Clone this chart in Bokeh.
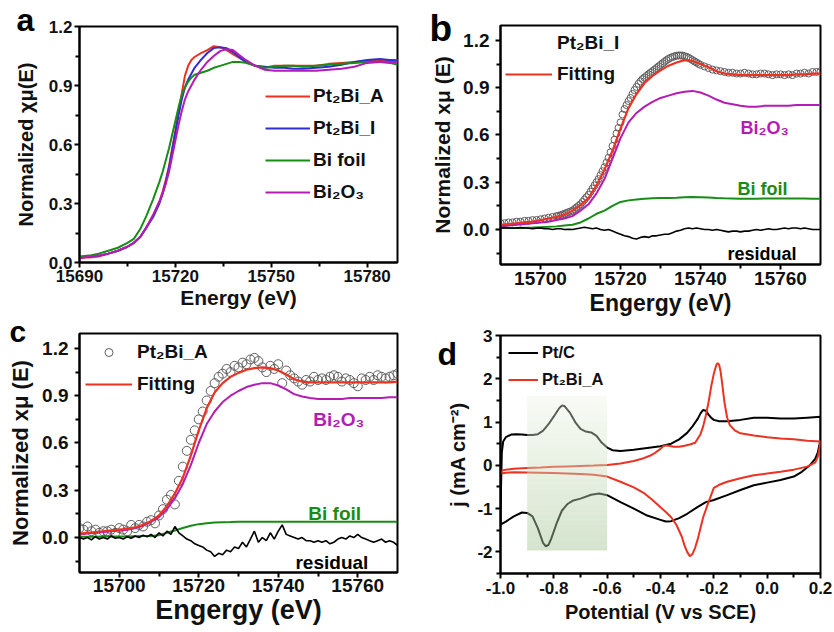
from bokeh.plotting import figure
from bokeh.layouts import column, row
from bokeh.models import (Range1d, FixedTicker, Legend, LegendItem, Label,
                          NumeralTickFormatter)
from bokeh.embed import file_html
from bokeh.resources import INLINE

FONT = "Liberation Sans"
RED = "#eb3223"
BLUE = "#2e2ed6"
GREEN = "#178c17"
MAGENTA = "#b51cb5"

# ---------------- data : panel a (XANES, Bi L3 edge) ----------------
energy_a = [15690, 15693, 15696, 15699, 15702, 15705, 15707, 15709, 15711, 15713,
            15715, 15716, 15717, 15718, 15719, 15720, 15721, 15722, 15723, 15724,
            15725, 15726, 15728, 15730, 15732, 15734, 15736, 15738, 15740, 15742,
            15745, 15748, 15751, 15754, 15757, 15760, 15764, 15768, 15772, 15776,
            15780, 15784, 15787, 15790]
pt2bi_a_a = [0.025, 0.025, 0.03, 0.045, 0.06, 0.08, 0.10, 0.13, 0.18, 0.24,
             0.31, 0.36, 0.42, 0.49, 0.58, 0.67, 0.77, 0.86, 0.95, 1.0,
             1.03, 1.045, 1.065, 1.08, 1.1, 1.095, 1.08, 1.06, 1.04, 1.02,
             1.0, 0.99, 1.0, 1.0, 1.0, 1.0, 1.0, 1.01, 1.015, 1.02,
             1.025, 1.03, 1.03, 1.03]
pt2bi_i_a = [0.025, 0.03, 0.035, 0.045, 0.06, 0.08, 0.10, 0.13, 0.18, 0.23,
             0.30, 0.35, 0.41, 0.48, 0.57, 0.66, 0.75, 0.83, 0.89, 0.93,
             0.96, 0.99, 1.03, 1.065, 1.09, 1.095, 1.09, 1.07, 1.045, 1.02,
             1.0, 0.995, 0.99, 0.99, 0.985, 0.985, 0.99, 0.995, 1.005, 1.02,
             1.03, 1.035, 1.03, 1.025]
bifoil_a = [0.03, 0.035, 0.045, 0.06, 0.075, 0.10, 0.12, 0.17, 0.24, 0.32,
            0.41, 0.46, 0.52, 0.58, 0.65, 0.72, 0.79, 0.85, 0.89, 0.92,
            0.94, 0.955, 0.965, 0.975, 0.99, 1.0, 1.01, 1.02, 1.02, 1.015,
            1.0, 0.99, 0.995, 1.0, 1.0, 0.995, 1.0, 1.005, 1.01, 1.015,
            1.02, 1.02, 1.015, 1.005]
bi2o3_a = [0.02, 0.03, 0.035, 0.045, 0.06, 0.08, 0.10, 0.13, 0.18, 0.24,
           0.31, 0.35, 0.40, 0.46, 0.54, 0.62, 0.70, 0.77, 0.83, 0.87,
           0.90, 0.93, 0.98, 1.02, 1.05, 1.075, 1.085, 1.08, 1.055, 1.03,
           1.0, 0.98, 0.975, 0.975, 0.975, 0.975, 0.975, 0.98, 0.985, 0.995,
           1.015, 1.02, 1.02, 1.02]

# ---------------- data : panel b (Pt2Bi_I LCF) ----------------
energy_b_pts = (list(range(15690, 15705)) + [15704.5 + 0.5 * i for i in range(72)]
                + list(range(15741, 15771)))
data_b = [0.04, 0.04, 0.045, 0.045, 0.05, 0.05, 0.055, 0.055, 0.06, 0.06,
          0.065, 0.07, 0.075, 0.08, 0.085,
          0.088, 0.09, 0.095, 0.10, 0.105, 0.11, 0.115, 0.12, 0.13, 0.14,
          0.15, 0.16, 0.175, 0.19, 0.205, 0.22, 0.24, 0.26, 0.28, 0.30,
          0.32, 0.345, 0.37, 0.395, 0.425, 0.455, 0.49, 0.53, 0.57, 0.61,
          0.645, 0.68, 0.73, 0.765, 0.79, 0.815, 0.835, 0.86, 0.885, 0.905,
          0.925, 0.94, 0.955, 0.965, 0.975, 0.985, 0.995, 1.005, 1.015, 1.025,
          1.035, 1.045, 1.055, 1.065, 1.075, 1.083, 1.09, 1.095, 1.1, 1.103,
          1.105, 1.105, 1.104, 1.1, 1.096, 1.09, 1.083, 1.075, 1.067, 1.06,
          1.052, 1.045,
          1.035, 1.025, 1.015, 1.01, 1.005, 1.0, 0.995, 0.995, 0.99, 0.99,
          0.995, 0.99, 0.985, 0.985, 0.99, 0.99, 0.985, 0.98, 0.985, 0.985,
          0.98, 0.985, 0.98, 0.99, 0.99, 0.995, 0.99, 1.0, 1.0, 1.005]
energy_line = list(range(15690, 15771, 2))    # 2 eV steps
energy_res = list(range(15690, 15771))        # 1 eV steps
fit_b = [0.03, 0.035, 0.04, 0.045, 0.05, 0.06, 0.07, 0.08, 0.095, 0.12,
         0.155, 0.20, 0.28, 0.38, 0.50, 0.64, 0.77, 0.86, 0.93, 0.975,
         1.01, 1.04, 1.06, 1.075, 1.07, 1.05, 1.03, 1.005, 0.99, 0.985,
         0.98, 0.98, 0.98, 0.98, 0.98, 0.98, 0.98, 0.985, 0.985, 0.99,
         0.99]
bi2o3_b = [0.02, 0.025, 0.03, 0.035, 0.04, 0.045, 0.05, 0.06, 0.07, 0.085,
           0.12, 0.16, 0.23, 0.32, 0.45, 0.58, 0.68, 0.74, 0.78, 0.81,
           0.835, 0.85, 0.865, 0.875, 0.88, 0.87, 0.85, 0.825, 0.805, 0.795,
           0.785, 0.78, 0.78, 0.785, 0.785, 0.785, 0.785, 0.79, 0.79, 0.79,
           0.79]
bifoil_b = [0.01, 0.01, 0.01, 0.012, 0.013, 0.015, 0.017, 0.02, 0.025, 0.03,
            0.045, 0.07, 0.10, 0.12, 0.15, 0.175, 0.185, 0.19, 0.195, 0.198,
            0.2, 0.2, 0.202, 0.205, 0.207, 0.205, 0.203, 0.2, 0.198, 0.197,
            0.196, 0.196, 0.196, 0.197, 0.197, 0.197, 0.197, 0.197, 0.197, 0.196,
            0.196]
resid_b = [0.01, 0.012, 0.01, 0.008, 0.01, 0.012, 0.01, 0.008, 0.005, 0.008,
           0.01, 0.005, 0.005, 0.0, 0.005, 0.005, 0.0, 0.002, 0.0, 0.005,
           0.01, 0.015, 0.01, 0.005, 0.01, 0.0, -0.005, 0.0, -0.01, -0.02,
           -0.03, -0.04, -0.045, -0.055, -0.06, -0.05, -0.045, -0.05, -0.04, -0.04,
           -0.035, -0.03, -0.03, -0.02, -0.01, -0.005, 0.005, 0.01, 0.005, 0.01,
           0.005, 0.0, 0.0, -0.005, 0.0, -0.005, -0.01, -0.015, -0.01, -0.01,
           -0.015, -0.01, -0.01, -0.005, 0.0, -0.005, 0.0, 0.005, 0.0, 0.0,
           0.005, 0.01, 0.005, 0.01, 0.01, 0.005, 0.01, 0.005, 0.0, 0.0,
           0.0]

# ---------------- data : panel c (Pt2Bi_A LCF) ----------------
data_c = [0.06, 0.05, 0.07, 0.04, 0.05, 0.03, 0.04, 0.04, 0.05, 0.03,
          0.06, 0.05, 0.04, 0.08, 0.06, 0.08, 0.07, 0.10, 0.11, 0.09,
          0.14, 0.18, 0.24, 0.27, 0.21, 0.36, 0.45, 0.55, 0.62, 0.68,
          0.75, 0.80, 0.87, 0.93, 0.98, 1.02, 1.04, 1.07, 1.05, 1.09,
          1.08, 1.11, 1.10, 1.13, 1.14, 1.12, 1.08, 1.05, 1.09, 1.07,
          1.10, 0.98, 1.06, 1.03, 1.01, 0.99, 0.97, 1.0, 0.99, 1.02,
          1.0, 1.01, 1.0, 1.02, 1.03, 1.02, 0.99, 1.01, 1.0, 0.98,
          0.96, 1.01, 1.0, 1.02, 1.0, 1.03, 1.02, 1.01, 1.02, 1.03,
          1.04]
fit_c = [0.025, 0.03, 0.035, 0.04, 0.045, 0.05, 0.055, 0.065, 0.08, 0.105,
         0.14, 0.20, 0.28, 0.38, 0.52, 0.68, 0.82, 0.92, 0.98, 1.02,
         1.045, 1.065, 1.075, 1.08, 1.075, 1.06, 1.035, 1.005, 0.99, 0.985,
         0.985, 0.985, 0.985, 0.985, 0.985, 0.985, 0.985, 0.985, 0.985, 0.985,
         0.99]
bi2o3_c = [0.02, 0.025, 0.03, 0.035, 0.04, 0.045, 0.05, 0.06, 0.075, 0.10,
           0.13, 0.18, 0.25, 0.34, 0.46, 0.60, 0.72, 0.80, 0.86, 0.90,
           0.93, 0.955, 0.97, 0.98, 0.98, 0.965, 0.94, 0.91, 0.895, 0.885,
           0.88, 0.88, 0.88, 0.88, 0.885, 0.885, 0.885, 0.885, 0.885, 0.89,
           0.89]
bifoil_c = [0.005, 0.005, 0.005, 0.006, 0.006, 0.007, 0.007, 0.008, 0.009, 0.01,
            0.015, 0.03, 0.045, 0.06, 0.075, 0.085, 0.09, 0.095, 0.097, 0.098,
            0.1, 0.1, 0.1, 0.1, 0.1, 0.1, 0.1, 0.1, 0.1, 0.1,
            0.1, 0.1, 0.1, 0.1, 0.1, 0.1, 0.1, 0.1, 0.1, 0.1,
            0.1]
resid_c = [0.0, -0.01, 0.0, -0.015, 0.005, -0.01, 0.0, -0.01, 0.01, -0.005,
           0.0, -0.01, 0.005, -0.005, 0.01, 0.0, 0.015, 0.005, 0.02, 0.0,
           0.03, 0.01, 0.04, 0.02, 0.07, 0.03, 0.01, -0.01, -0.02, -0.04,
           -0.05, -0.06, -0.08, -0.09, -0.12, -0.10, -0.11, -0.08, -0.09, -0.06,
           -0.07, -0.03, -0.06, -0.01, 0.04, -0.03, 0.0, -0.02, 0.03, -0.01,
           0.04, 0.08, 0.02, 0.01, 0.0, -0.01, 0.0, -0.02, -0.02, -0.03,
           -0.02, -0.03, -0.02, -0.04, -0.03, -0.01, 0.0, -0.01, 0.01, 0.0,
           0.02, 0.0, -0.01, -0.02, -0.03, -0.02, -0.01, -0.03, -0.02, -0.03,
           -0.05]

# ---------------- data : panel d (cyclic voltammograms) ----------------
ptc_up_v = [-1.0, -0.998, -0.995, -0.99, -0.98, -0.96, -0.94, -0.92, -0.9, -0.88,
            -0.86, -0.84, -0.82, -0.80, -0.78, -0.77, -0.76, -0.74, -0.72, -0.70,
            -0.68, -0.66, -0.64, -0.62, -0.60, -0.58, -0.55, -0.50, -0.45, -0.40,
            -0.36, -0.33, -0.30, -0.28, -0.26, -0.25, -0.24, -0.23, -0.22, -0.21,
            -0.20, -0.18, -0.15, -0.10, -0.05, 0.0, 0.05, 0.10, 0.15, 0.2]
ptc_up_j = [-1.36, -0.5, 0.3, 0.55, 0.65, 0.71, 0.72, 0.71, 0.70, 0.70,
            0.72, 0.80, 0.95, 1.13, 1.32, 1.38, 1.37, 1.22, 1.0, 0.84,
            0.78, 0.76, 0.68, 0.52, 0.41, 0.35, 0.33, 0.36, 0.40, 0.44,
            0.50, 0.60, 0.75, 0.9, 1.08, 1.2, 1.28, 1.26, 1.17, 1.1,
            1.05, 1.02, 1.02, 1.05, 1.1, 1.1, 1.08, 1.08, 1.1, 1.12]
ptc_dn_v = [0.2, 0.195, 0.19, 0.18, 0.16, 0.13, 0.1, 0.05, 0.0, -0.05,
            -0.1, -0.15, -0.2, -0.23, -0.26, -0.3, -0.33, -0.36, -0.38, -0.4,
            -0.45, -0.5, -0.55, -0.6, -0.63, -0.66, -0.7, -0.73, -0.75, -0.77,
            -0.79, -0.81, -0.82, -0.83, -0.84, -0.86, -0.88, -0.9, -0.92, -0.95,
            -0.98, -1.0]
ptc_dn_j = [0.6, 0.45, 0.3, 0.15, 0.0, -0.15, -0.26, -0.34, -0.4, -0.46,
            -0.57, -0.69, -0.8, -0.85, -0.96, -1.12, -1.22, -1.29, -1.3, -1.26,
            -1.16, -1.0, -0.85, -0.69, -0.65, -0.68, -0.77, -0.82, -0.9, -1.05,
            -1.35, -1.7, -1.84, -1.87, -1.8, -1.45, -1.18, -1.1, -1.09, -1.18,
            -1.3, -1.37]
pba_up_v = [-1.0, -0.995, -0.98, -0.95, -0.9, -0.85, -0.8, -0.75, -0.7, -0.65,
            -0.6, -0.55, -0.5, -0.47, -0.44, -0.42, -0.40, -0.39, -0.38, -0.37,
            -0.35, -0.33, -0.31, -0.29, -0.27, -0.25, -0.24, -0.23, -0.22, -0.21,
            -0.20, -0.19, -0.185, -0.18, -0.175, -0.17, -0.16, -0.15, -0.14, -0.12,
            -0.10, -0.05, 0.0, 0.05, 0.1, 0.15, 0.2]
pba_up_j = [-0.19, -0.12, -0.1, -0.08, -0.06, -0.05, -0.035, -0.025, -0.015, -0.005,
            0.01, 0.04, 0.1, 0.15, 0.22, 0.29, 0.38, 0.44, 0.46, 0.45,
            0.43, 0.43, 0.45, 0.48, 0.52, 0.72, 0.9, 1.15, 1.45, 1.82,
            2.12, 2.33, 2.36, 2.32, 2.18, 1.95, 1.45, 1.1, 0.93, 0.8,
            0.74, 0.69, 0.65, 0.62, 0.6, 0.57, 0.55]
pba_dn_v = [0.2, 0.195, 0.19, 0.18, 0.15, 0.1, 0.05, 0.0, -0.05, -0.1,
            -0.15, -0.18, -0.2, -0.22, -0.24, -0.25, -0.26, -0.27, -0.28, -0.29,
            -0.30, -0.31, -0.32, -0.34, -0.36, -0.38, -0.40, -0.43, -0.46, -0.5,
            -0.55, -0.6, -0.65, -0.7, -0.8, -0.9, -0.95, -0.98, -1.0]
pba_dn_j = [0.55, 0.35, 0.2, 0.06, -0.03, -0.1, -0.15, -0.19, -0.23, -0.3,
            -0.38, -0.45, -0.52, -0.85, -1.2, -1.45, -1.7, -1.9, -2.05, -2.1,
            -2.0, -1.85, -1.65, -1.38, -1.2, -1.08, -0.97, -0.8, -0.65, -0.51,
            -0.38, -0.26, -0.22, -0.2, -0.18, -0.165, -0.16, -0.17, -0.19]
shade_v = [-0.9, -0.6]        # highlighted potential window
shade_j = [-1.97, 1.6]

# ---------------- layout geometry (pixels) ----------------
# left column: a over c ; right column: b over d
GEO = {
    "a": dict(W=417, H=313, bl=79, br=20, bt=26, bb=51, xr=(15690, 15789.5), yr=(0.0, 1.2)),
    "c": dict(W=417, H=319, bl=79, br=17, bt=20, bb=60, xr=(15690, 15770), yr=(-0.222, 1.295)),
    "b": dict(W=417, H=322, bl=83, br=14, bt=25, bb=58, xr=(15690, 15770), yr=(-0.222, 1.295)),
    "d": dict(W=417, H=310, bl=83, br=11, bt=13, bb=59, xr=(-1.0, 0.2), yr=(-2.5, 3.0)),
}
OFF = {"a": (0, 0), "c": (0, 313), "b": (417, 0), "d": (417, 322)}


def frame_box(key):
    g = GEO[key]
    ox, oy = OFF[key]
    fw = g["W"] - g["bl"] - g["br"]
    fh = g["H"] - g["bt"] - g["bb"]
    return ox + g["bl"], oy + g["bt"], fw, fh


def px2data(key, px, py):
    g = GEO[key]
    left, top, fw, fh = frame_box(key)
    x = g["xr"][0] + (px - left) / fw * (g["xr"][1] - g["xr"][0])
    y = g["yr"][1] - (py - top) / fh * (g["yr"][1] - g["yr"][0])
    return x, y


def make_panel(key, xt, xm, yt, ym, xfmt, yfmt, tick_size, xlab, ylab, xlab_size, ylab_size,
               ystand_lab, xstand_lab, ystand_tick, xstand_tick):
    g = GEO[key]
    p = figure(width=g["W"], height=g["H"], x_range=Range1d(*g["xr"]), y_range=Range1d(*g["yr"]),
               output_backend="svg", toolbar_location=None,
               min_border_left=g["bl"], min_border_right=g["br"],
               min_border_top=g["bt"], min_border_bottom=g["bb"],
               x_axis_label=xlab, y_axis_label=ylab)
    p.grid.visible = False
    p.outline_line_color = "black"
    p.outline_line_width = 2
    p.outline_line_alpha = 1.0
    p.background_fill_color = "white"
    p.border_fill_color = "white"
    for ax, ticks, minor, fmt in [(p.xaxis[0], xt, xm, xfmt), (p.yaxis[0], yt, ym, yfmt)]:
        ax.ticker = FixedTicker(ticks=ticks, minor_ticks=minor)
        ax.formatter = NumeralTickFormatter(format=fmt)
        ax.axis_line_width = 2
        ax.major_tick_line_width = 2
        ax.minor_tick_line_width = 2
        ax.major_tick_out = 5
        ax.major_tick_in = 0
        ax.minor_tick_out = 4
        ax.minor_tick_in = 0
        ax.major_label_text_font = FONT
        ax.major_label_text_font_style = "bold"
        ax.major_label_text_font_size = tick_size
        ax.major_label_text_color = "#111111"
        ax.axis_label_text_font = FONT
        ax.axis_label_text_font_style = "bold"
        ax.axis_label_text_color = "#111111"
    p.xaxis[0].axis_label_text_font_size = xlab_size
    p.yaxis[0].axis_label_text_font_size = ylab_size
    p.xaxis[0].axis_label_standoff = xstand_lab
    p.yaxis[0].axis_label_standoff = ystand_lab
    p.xaxis[0].major_label_standoff = xstand_tick
    p.yaxis[0].major_label_standoff = ystand_tick
    return p


def add_text(p, key, px, py, text, color, size):
    x, y = px2data(key, px, py)
    p.add_layout(Label(x=x, y=y, text=text, text_color=color, text_font=FONT,
                       text_font_size=size, text_font_style="bold",
                       text_baseline="alphabetic", text_align="left"))


def add_letter(p, key, px, py, text, size_px):
    # panel letter drawn as the plot title, pulled left/down into the corner
    left, top, fw, fh = frame_box(key)
    bottom_of_text = py + 0.212 * size_px
    p.title.text = text
    p.title.align = "left"
    p.title.vertical_align = "bottom"
    p.title.offset = int(round(px - left))
    p.title.standoff = int(round(-2 * (bottom_of_text - top)))
    p.title.text_font = FONT
    p.title.text_font_size = "%dpx" % size_px
    p.title.text_font_style = "bold"
    p.title.text_color = "black"


def legend_loc(key, glyph_left_px, first_center_py, n, rowh, spacing):
    left, top, fw, fh = frame_box(key)
    x = glyph_left_px - left
    box_top = first_center_py - top - rowh / 2.0
    bottom = box_top + n * rowh + (n - 1) * spacing
    return (int(round(x)), int(round(fh - bottom)))


def style_legend(lg, size, glyph_w, standoff, rowh, spacing):
    lg.label_text_font = FONT
    lg.label_text_font_style = "bold"
    lg.label_text_font_size = size
    lg.label_text_color = "#111111"
    lg.glyph_width = glyph_w
    lg.glyph_height = rowh
    lg.label_height = rowh
    lg.label_standoff = standoff
    lg.spacing = spacing
    lg.padding = 0
    lg.margin = 0
    lg.border_line_alpha = 0
    lg.background_fill_alpha = 0


# ---------------- panel a ----------------
pa = make_panel("a", [15690, 15720, 15750, 15780], [15705, 15735, 15765],
                [0.0, 0.3, 0.6, 0.9, 1.2], [0.15, 0.45, 0.75, 1.05], "0", "0.0", "17px",
                "Energy (eV)", "Normalized χμ(E)", "21px", "20px", 9, 1, 2, 2)
ra1 = pa.line(energy_a, pt2bi_a_a, line_color=RED, line_width=2)
ra2 = pa.line(energy_a, pt2bi_i_a, line_color=BLUE, line_width=2)
ra3 = pa.line(energy_a, bifoil_a, line_color=GREEN, line_width=2)
ra4 = pa.line(energy_a, bi2o3_a, line_color=MAGENTA, line_width=2)
lga = Legend(items=[LegendItem(label="Pt₂Bi_A", renderers=[ra1]),
                    LegendItem(label="Pt₂Bi_I", renderers=[ra2]),
                    LegendItem(label="Bi foil", renderers=[ra3]),
                    LegendItem(label="Bi₂O₃", renderers=[ra4])],
             location=legend_loc("a", 265, 95, 4, 22.3, 10))
style_legend(lga, "19px", 45, 3, 20, 10)
pa.add_layout(lga)
add_letter(pa, "a", 16, 30, "a", 32)

# ---------------- panel b ----------------
pb = make_panel("b", [15700, 15720, 15740, 15760], [15710, 15730, 15750],
                [0.0, 0.3, 0.6, 0.9, 1.2], [-0.15, 0.15, 0.45, 0.75, 1.05], "0", "0.0", "19px",
                "Engergy (eV)", "Normalized xμ (E)", "23px", "21px", 6, 2, 6, 2)
rb_pts = pb.scatter(energy_b_pts, data_b, marker="circle", size=7, fill_alpha=0,
                    line_color="#5f5f5f", line_width=1)
pb.line(energy_line, bi2o3_b, line_color=MAGENTA, line_width=2)
pb.line(energy_line, bifoil_b, line_color=GREEN, line_width=2)
pb.line(energy_res, resid_b, line_color="black", line_width=1.6)
rb_fit = pb.line(energy_line, fit_b, line_color=RED, line_width=2.2)
rb_dummy = pb.scatter(x=[], y=[], marker="circle", size=8, fill_alpha=0, line_alpha=0)
lgb = Legend(items=[LegendItem(label="Pt₂Bi_I", renderers=[rb_dummy]),
                    LegendItem(label="Fitting", renderers=[rb_fit])],
             location=legend_loc("b", 505, 42, 2, 22.5, 9))
style_legend(lgb, "19px", 47, 5, 20, 9)
pb.add_layout(lgb)
add_text(pb, "b", 740, 127, "Bi₂O₃", MAGENTA, "18px")
add_text(pb, "b", 737, 188, "Bi foil", GREEN, "18px")
add_text(pb, "b", 727, 253, "residual", "black", "18px")
add_letter(pb, "b", 429, 40, "b", 37)

# ---------------- panel c ----------------
pc = make_panel("c", [15700, 15720, 15740, 15760], [15710, 15730, 15750],
                [0.0, 0.3, 0.6, 0.9, 1.2], [-0.15, 0.15, 0.45, 0.75, 1.05], "0", "0.0", "19px",
                "Engergy (eV)", "Normalized xμ (E)", "27px", "22px", 6, 0, 6, 1)
rc_pts = pc.scatter(energy_res, data_c, marker="circle", size=9, fill_alpha=0,
                    line_color="#5f5f5f", line_width=1)
pc.line(energy_line, bi2o3_c, line_color=MAGENTA, line_width=2)
pc.line(energy_line, bifoil_c, line_color=GREEN, line_width=2)
pc.line(energy_res, resid_c, line_color="black", line_width=1.6)
rc_fit = pc.line(energy_line, fit_c, line_color=RED, line_width=2.2)
lgc = Legend(items=[LegendItem(label="Pt₂Bi_A", renderers=[rc_pts]),
                    LegendItem(label="Fitting", renderers=[rc_fit])],
             location=legend_loc("c", 85, 351, 2, 22.5, 10))
style_legend(lgc, "19px", 47, 5, 20, 10)
pc.add_layout(lgc)
add_text(pc, "c", 315, 419, "Bi₂O₃", MAGENTA, "19px")
add_text(pc, "c", 310, 513, "Bi foil", GREEN, "19px")
add_text(pc, "c", 297, 562, "residual", "black", "19px")
add_letter(pc, "c", 9, 341, "c", 30)

# ---------------- panel d ----------------
pd = make_panel("d", [-1.0, -0.8, -0.6, -0.4, -0.2, 0.0, 0.2], [-0.9, -0.7, -0.5, -0.3, -0.1, 0.1],
                [-2, -1, 0, 1, 2, 3], [-2.5, -1.5, -0.5, 0.5, 1.5, 2.5], "0.0", "0", "17px",
                "Potential (V vs SCE)", "j (mA cm⁻²)", "20px", "20px", 5, 4, 3, 3)
rd1 = pd.line(ptc_up_v + ptc_dn_v, ptc_up_j + ptc_dn_j, line_color="black", line_width=2)
rd2 = pd.line(pba_up_v + pba_dn_v, pba_up_j + pba_dn_j, line_color=RED, line_width=2)
# translucent green highlight drawn over the curves, darker towards the bottom
NB = 30
lo, hi = shade_j
band_b, band_t, band_c, band_a = [], [], [], []
for i in range(NB):
    t = i / (NB - 1)
    band_b.append(lo + (hi - lo) * i / NB)
    band_t.append(lo + (hi - lo) * (i + 1) / NB)
    r = int(165 + (236 - 165) * t)
    gch = int(198 + (244 - 198) * t)
    bch = int(150 + (228 - 150) * t)
    band_c.append("#%02x%02x%02x" % (r, gch, bch))
    band_a.append(0.47 - 0.07 * t)
pd.quad(left=[shade_v[0]] * NB, right=[shade_v[1]] * NB, bottom=band_b, top=band_t,
        fill_color=band_c, fill_alpha=band_a, line_alpha=0)
lgd = Legend(items=[LegendItem(label="Pt/C", renderers=[rd1]),
                    LegendItem(label="Pt₂Bi_A", renderers=[rd2])],
             location=legend_loc("d", 508, 352.7, 2, 19, 8))
style_legend(lgd, "16.5px", 30, 4, 19, 8)
pd.add_layout(lgd)
add_letter(pd, "d", 437, 364, "d", 32)

layout = row(column(pa, pc), column(pb, pd))
open("out.html", "w").write(file_html(layout, INLINE))
